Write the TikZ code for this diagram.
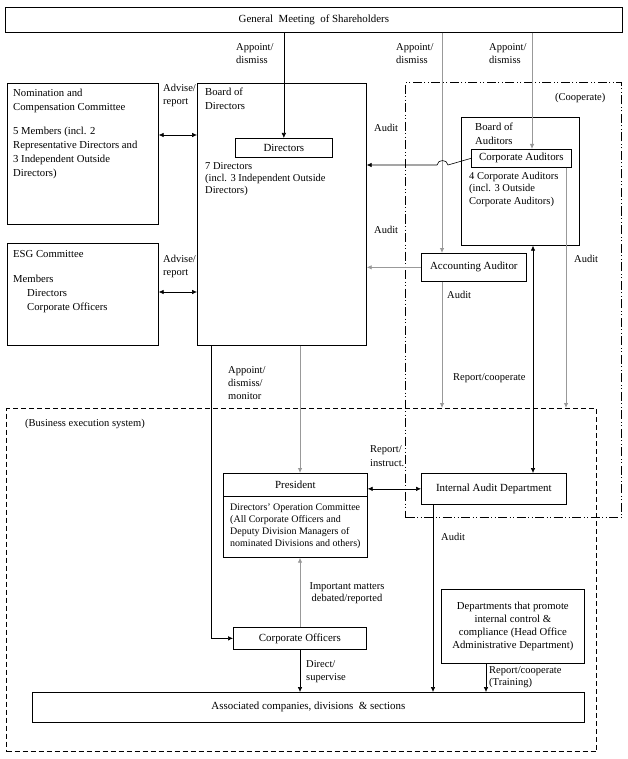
\documentclass[tikz,border=0pt]{standalone}
\usepackage{fontspec}
\setmainfont{Liberation Serif}
\usetikzlibrary{arrows.meta}
\begin{document}
\begin{tikzpicture}[x=1pt,y=-1pt,
  box/.style={draw, line width=0.7pt, inner sep=0pt, anchor=north west, align=center, font=\fontsize{10.9}{13}\selectfont},
  txt/.style={inner sep=0pt, anchor=north west, align=left, font=\fontsize{10.7}{14}\selectfont},
  tight/.style={inner sep=0pt, anchor=north west, align=left, font=\fontsize{10.5}{12.3}\selectfont},
  lab/.style={inner sep=0pt, anchor=north west, align=left, font=\fontsize{10.5}{13}\selectfont},
  arr/.style={-{Latex[length=5pt,width=4.5pt]}, line width=0.6pt},
  darr/.style={{Latex[length=5pt,width=4.5pt]}-{Latex[length=5pt,width=4.5pt]}, line width=0.6pt},
  gl/.style={draw=black!40, line width=0.8pt},
  dashdotdot/.style={line width=1pt, dash pattern=on 9pt off 2.5pt on 1pt off 2.5pt on 1pt off 2.5pt},
  dashbox/.style={line width=1pt, dash pattern=on 5pt off 3pt},
]
\useasboundingbox (0,0) rectangle (628,759);

% frames
\node[box, dashbox, minimum width=590pt, minimum height=343pt] (bes) at (6,408) {};
\node[box, dashdotdot, minimum width=216pt, minimum height=435pt] (coop) at (405,82) {};

% boxes
\node[box, minimum width=617pt, minimum height=25pt] (gm) at (5,7) {General\ \ Meeting\ \ of Shareholders};
\node[box, minimum width=151pt, minimum height=141pt] (nom) at (7,83) {};
\node[box, minimum width=169pt, minimum height=262pt] (bod) at (197,83) {};
\node[box, minimum width=97pt, minimum height=19pt] (dirs) at (235,138) {Directors};
\node[box, minimum width=151pt, minimum height=102pt] (esg) at (7,243) {};
\node[box, minimum width=118pt, minimum height=128pt] (boa) at (461,117) {};
\node[box, minimum width=100pt, minimum height=18pt] (ca) at (471,149) {Corporate Auditors};
\node[box, minimum width=105pt, minimum height=28pt] (aa) at (421,253) {Accounting Auditor};
\node[box, minimum width=145pt, minimum height=31pt] (iad) at (421,473) {Internal Audit Department};
\node[box, minimum width=144pt, minimum height=84pt] (pres) at (223,473) {};
\node[box, minimum width=144pt, minimum height=23pt] (presh) at (223,473) {President};
\node[box, minimum width=133pt, minimum height=22pt] (co) at (233,627) {Corporate Officers};
\node[box, minimum width=143pt, minimum height=74pt, font=\fontsize{10.7}{13}\selectfont] (dept) at (441,589) {Departments that promote\\internal control \&\\compliance (Head Office\\Administrative Department)};
\node[box, minimum width=552pt, minimum height=30pt] (assoc) at (32,692) {Associated companies, divisions\ \ \& sections};

% box texts
\node[txt] (nomt) at (13,89) {Nomination and\\Compensation Committee\\[10pt]5 Members (incl. 2\\Representative Directors and\\3 Independent Outside\\Directors)};
\node[txt] (bodt) at (205,88) {Board of\\Directors};
\node[tight] (dirst) at (205,162) {7 Directors\\(incl. 3 Independent Outside\\Directors)};
\node[txt] (esgt) at (13,250) {ESG Committee\\[11pt]Members\\\hspace*{14pt}Directors\\\hspace*{14pt}Corporate Officers};
\node[txt] (boat) at (475,123) {Board of\\Auditors};
\node[tight] (cat) at (469,172) {4 Corporate Auditors\\(incl. 3 Outside\\Corporate Auditors)};
\node[tight, font=\fontsize{10}{11.8}\selectfont] (prest) at (230,504) {Directors' Operation Committee\\(All Corporate Officers and\\Deputy Division Managers of\\nominated Divisions and others)};
\node[lab] (coopt) at (555,93) {(Cooperate)};
\node[lab] (best) at (25,419) {(Business execution system)};

% helper coordinates
\coordinate (xB) at (442,0);
\coordinate (xC) at (532,0);
\coordinate (xD) at (566,0);
\coordinate (xE) at (533,0);
\coordinate (xF) at (300,0);
\coordinate (xG) at (211,0);
\coordinate (xH) at (433,0);
\coordinate (xI) at (486,0);
\coordinate (yA) at (0,165);
\coordinate (y135) at (0,135);
\coordinate (y292) at (0,292);
\coordinate (bA) at (448,165);
\coordinate (bB) at (437,165);

% connectors
\draw[arr] (dirs.north |- gm.south) -- (dirs.north);
\draw[arr,gl] (gm.south -| xB) -- (aa.north -| xB);
\draw[arr,gl] (gm.south -| xC) -- (ca.north -| xC);
\draw[arr] (ca.west) -- (bA) .. controls (447,159) and (438,159) .. (bB) -- (bod.east |- yA);
\draw[arr,gl] (aa.west) -- (bod.east |- aa.west);
\draw[arr,gl] (aa.south -| xB) -- (bes.north -| xB);
\draw[arr,gl] (ca.south -| xD) -- (bes.north -| xD);
\draw[darr] (boa.south -| xE) -- (iad.north -| xE);
\draw[arr,gl] (bod.south -| xF) -- (pres.north -| xF);
\draw[arr] (bod.south -| xG) -- (xG |- co.west) -- (co.west);
\draw[darr] (pres.east |- iad.west) -- (iad.west);
\draw[arr,gl] (co.north -| xF) -- (pres.south -| xF);
\draw[arr] (co.south -| xF) -- (assoc.north -| xF);
\draw[arr] (iad.south -| xH) -- (assoc.north -| xH);
\draw[arr] (dept.south -| xI) -- (assoc.north -| xI);
\draw[darr] (nom.east |- y135) -- (bod.west |- y135);
\draw[darr] (esg.east |- y292) -- (bod.west |- y292);

% connector labels
\node[lab] (l1) at (236,43) {Appoint/\\dismiss};
\node[lab] (l2) at (396,43) {Appoint/\\dismiss};
\node[lab] (l3) at (489,43) {Appoint/\\dismiss};
\node[lab] (l4) at (163,84) {Advise/\\report};
\node[lab] (l5) at (163,255) {Advise/\\report};
\node[lab] (l6) at (374,124) {Audit};
\node[lab] (l7) at (374,226) {Audit};
\node[lab] (l8) at (447,291) {Audit};
\node[lab] (l9) at (574,255) {Audit};
\node[lab] (l10) at (453,373) {Report/cooperate};
\node[lab] (l11) at (228,366) {Appoint/\\dismiss/\\monitor};
\node[lab, font=\fontsize{10.5}{14}\selectfont] (l12) at (370,445) {Report/\\instruct.};
\node[lab] (l13) at (441,533) {Audit};
\node[lab, anchor=north, align=center, font=\fontsize{10.5}{12.5}\selectfont] (l14) at (347,582) {Important matters\\debated/reported};
\node[lab] (l15) at (306,660) {Direct/\\supervise};
\node[lab, font=\fontsize{10.5}{12.5}\selectfont] (l16) at (489,666) {Report/cooperate\\(Training)};
\end{tikzpicture}
\end{document}
